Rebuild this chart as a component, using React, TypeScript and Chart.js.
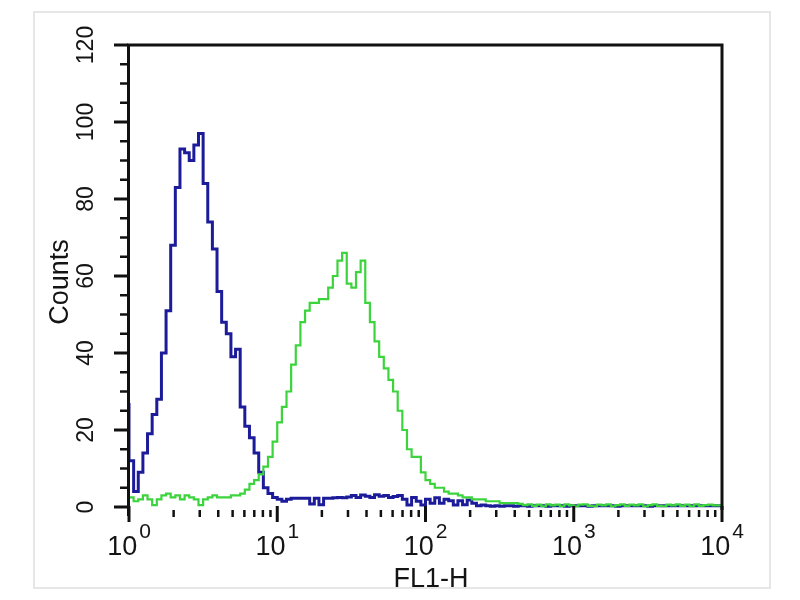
import React, { useEffect, useRef } from "react";
import { Chart, registerables } from "chart.js";

Chart.register(...registerables);

// Histogram channels: 32 bins per decade over 10^0 .. 10^4
const BINS_PER_DECADE = 32;

// Blue (control) histogram counts per bin
const controlCounts: number[] = [
  27, 12, 4, 9, 14, 19, 24, 28, 40, 51,
  68, 83, 93, 92, 90, 94, 97, 84, 74, 67,
  56, 48, 45, 39, 41, 26, 21, 18, 14, 9,
  5, 3.5, 2.5, 2, 1.5, 2, 2.3, 2.3, 2.3, 2.3,
  0.8, 2.3, 0.6, 2.3, 2.3, 2.4, 2.5, 2.4, 2.6, 3,
  2.5, 3.1, 2.8, 2.5, 3.2, 2.8, 3, 2.5, 2.7, 3,
  2, 0.5, 2.5, 1.5, 0.5, 2, 1, 2.4, 1, 2,
  1.6, 0.5, 1.6, 0.6, 1.8, 1, 0.3, 0.5, 0.3, 0.2,
  0.3, 0.2, 0.3, 0.3, 0.2, 0.3, 0.3, 0.2, 0.3, 0.3,
  0.3, 0.2, 0.3, 0.3, 0.3, 0.2, 0.3, 0.3, 0.3, 0.3,
  0.2, 0.3, 0.3, 0.3, 0.3, 0.3, 0.2, 0.3, 0.3, 0.3,
  0.3, 0.3, 0.3, 0.2, 0.3, 0.3, 0.3, 0.3, 0.3, 0.3,
  0.3, 0.3, 0.3, 0.3, 0.3, 0.3, 0.3, 0.3,
];

// Green (antibody) histogram counts per bin
const antibodyCounts: number[] = [
  2, 2.5, 1.5, 2, 3, 2, 0.5, 2, 3, 3.5,
  2.5, 3, 2, 3, 2.5, 2, 0.5, 2, 2.5, 3,
  2.5, 2.5, 2.5, 3, 3, 3.5, 4.5, 6, 7, 8.5,
  10.5, 13, 17, 22, 26, 30, 37, 42, 48, 51,
  53, 53, 54, 54, 57, 60, 64, 66, 58, 57,
  61, 64, 53, 48, 43, 39, 36, 33, 30, 25,
  20, 15, 13, 13, 9, 7, 6, 5, 5, 4,
  3.5, 3.5, 3, 2.5, 2.5, 2, 2, 2, 1.5, 1.5,
  1.5, 1, 1, 1, 1, 0.8, 0.5, 0.7, 0.3, 0.6,
  0.2, 0.7, 0.4, 0.6, 0.2, 0.7, 0.4, 0.2, 0.6, 0.7,
  0.3, 0.2, 0.6, 0.4, 0.7, 0.2, 0.5, 0.7, 0.3, 0.6,
  0.4, 0.7, 0.2, 0.5, 0.7, 0.3, 0.2, 0.6, 0.4, 0.7,
  0.3, 0.6, 0.2, 0.7, 0.3, 0.5, 0.6, 0.4,
];

const yTickValues: number[] = [0, 20, 40, 60, 80, 100, 120];
const yTickLabels: string[] = ["0", "20", "40", "60", "80", "100", "120"];
const xTickExponents: string[] = ["0", "1", "2", "3", "4"];
const xTitle = "FL1-H";
const yTitle = "Counts";

const FONT = '"Liberation Sans", Arial, Helvetica, sans-serif';
const INK = "#141414";

function toPoints(counts: number[]) {
  const pts = counts.map((c, i) => ({ x: Math.pow(10, i / BINS_PER_DECADE), y: c }));
  pts.push({ x: 10000, y: counts[counts.length - 1] });
  return pts;
}

const frameBehind = {
  id: "frameBehind",
  beforeDraw(chart: any) {
    const { ctx } = chart;
    ctx.save();
    ctx.strokeStyle = "#e6e6e6";
    ctx.lineWidth = 2;
    ctx.strokeRect(34, 12, 736, 576);
    ctx.restore();
  },
};

const facsAxes = {
  id: "facsAxes",
  afterDatasetsDraw(chart: any) {
    const { ctx, chartArea: ca } = chart;
    const xs = chart.scales.x;
    const ys = chart.scales.y;
    ctx.save();
    ctx.strokeStyle = "#111";
    ctx.fillStyle = INK;
    ctx.lineCap = "butt";

    // Frame: left axis, top and right borders
    ctx.lineWidth = 3;
    ctx.beginPath();
    ctx.moveTo(ca.left - 0.5, ca.bottom + 9);
    ctx.lineTo(ca.left - 0.5, ca.top);
    ctx.lineTo(ca.right, ca.top);
    ctx.lineTo(ca.right, ca.bottom + 3);
    ctx.stroke();

    // Y ticks every 5, majors every 20
    for (let v = 0; v <= 120; v += 5) {
      const py = ys.getPixelForValue(v);
      const major = v % 20 === 0;
      ctx.lineWidth = major ? 3 : 2.5;
      ctx.beginPath();
      ctx.moveTo(major ? ca.left - 15 : ca.left - 9, py);
      ctx.lineTo(ca.left - 1, py);
      ctx.stroke();
    }

    // Y tick labels (rotated)
    ctx.font = `23px ${FONT}`;
    ctx.textAlign = "center";
    ctx.textBaseline = "middle";
    yTickValues.forEach((v, i) => {
      const py = ys.getPixelForValue(v);
      ctx.save();
      ctx.translate(ca.left - 42, py);
      ctx.rotate(-Math.PI / 2);
      ctx.fillText(yTickLabels[i], 0, 0);
      ctx.restore();
    });

    // Y title
    ctx.save();
    ctx.font = `27px ${FONT}`;
    ctx.translate(61, (ca.top + ca.bottom) / 2 + 6);
    ctx.rotate(-Math.PI / 2);
    ctx.fillText(yTitle, 0, 0);
    ctx.restore();

    // X minor ticks (2..9 per decade) and major ticks at decades
    for (let d = 0; d < 4; d++) {
      for (let m = 2; m <= 9; m++) {
        const px = xs.getPixelForValue(m * Math.pow(10, d));
        ctx.lineWidth = 2.5;
        ctx.beginPath();
        ctx.moveTo(px, ca.bottom + 3);
        ctx.lineTo(px, ca.bottom + 10);
        ctx.stroke();
      }
    }
    for (let d = 0; d <= 4; d++) {
      const px = xs.getPixelForValue(Math.pow(10, d));
      ctx.lineWidth = 3;
      ctx.beginPath();
      ctx.moveTo(px, ca.bottom - 1);
      ctx.lineTo(px, ca.bottom + 15);
      ctx.stroke();
    }

    // X tick labels: 10 with superscript exponent
    ctx.textAlign = "left";
    ctx.textBaseline = "alphabetic";
    xTickExponents.forEach((e, d) => {
      const px = xs.getPixelForValue(Math.pow(10, d));
      ctx.font = `27px ${FONT}`;
      const w1 = ctx.measureText("10").width;
      ctx.font = `21px ${FONT}`;
      const w2 = ctx.measureText(e).width;
      const gap = 2;
      const start = px - (w1 + gap + w2) / 2;
      ctx.font = `27px ${FONT}`;
      ctx.fillText("10", start, ca.bottom + 48);
      ctx.font = `21px ${FONT}`;
      ctx.fillText(e, start + w1 + gap, ca.bottom + 31);
    });

    // X title
    ctx.font = `27px ${FONT}`;
    ctx.textAlign = "center";
    ctx.fillText(xTitle, 431, ca.bottom + 80);

    ctx.restore();
  },
};

export default function App() {
  const canvasRef = useRef<HTMLCanvasElement | null>(null);

  useEffect(() => {
    const canvas = canvasRef.current;
    if (!canvas) return;
    const chart = new Chart(canvas, {
      type: "line",
      data: {
        datasets: [
          {
            label: "antibody",
            data: toPoints(antibodyCounts),
            borderColor: "#3cd43c",
            borderWidth: 2.2,
            stepped: "after",
            pointRadius: 0,
            fill: false,
            clip: 6,
          },
          {
            label: "control",
            data: toPoints(controlCounts),
            borderColor: "#1c1c9a",
            borderWidth: 3,
            stepped: "after",
            pointRadius: 0,
            fill: false,
            clip: 6,
          },
        ],
      },
      options: {
        animation: false,
        responsive: false,
        layout: { padding: { left: 129, right: 78, top: 45, bottom: 93 } },
        plugins: {
          legend: { display: false },
          tooltip: { enabled: false },
        },
        scales: {
          x: { type: "logarithmic", min: 1, max: 10000, display: false },
          y: { type: "linear", min: 0, max: 120, display: false },
        },
      },
      plugins: [frameBehind, facsAxes],
    });
    return () => chart.destroy();
  }, []);

  return (
    <div style={{ position: "fixed", left: 0, top: 0, width: 800, height: 600, background: "#fff" }}>
      <canvas ref={canvasRef} width={800} height={600} style={{ width: 800, height: 600, display: "block" }} />
    </div>
  );
}
